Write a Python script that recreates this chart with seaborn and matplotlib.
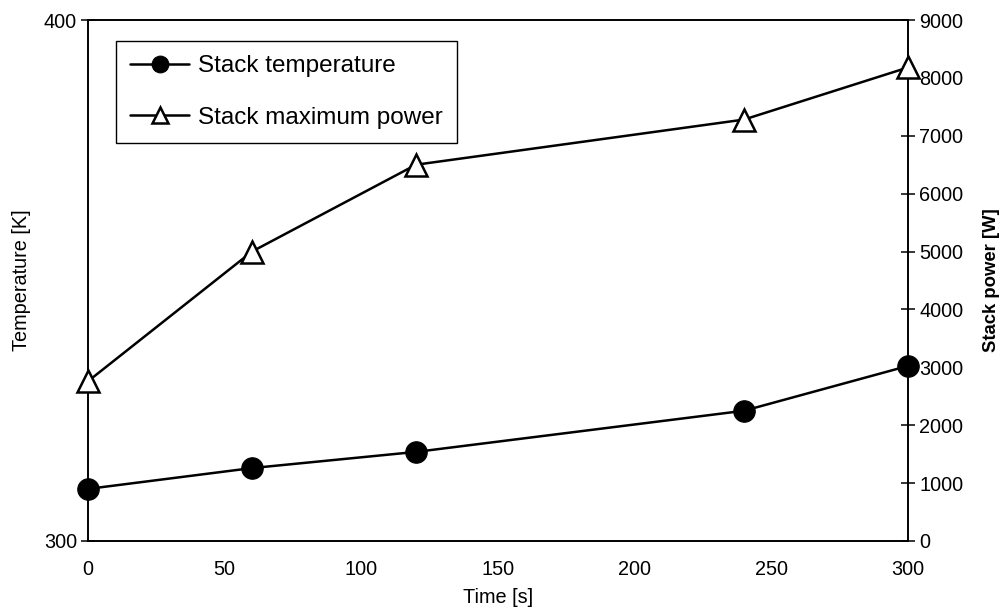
import matplotlib
matplotlib.use("Agg")
import matplotlib.pyplot as plt
import seaborn as sns
import pandas as pd

time_s = [0, 60, 120, 240, 300]
stack_temperature = [310.0, 314.0, 317.1, 325.0, 333.6]
stack_max_power = [2760, 5000, 6500, 7280, 8180]

sns.set_style("white")
plt.rcParams['font.family'] = ['Liberation Sans', 'DejaVu Sans']
plt.rcParams['text.color'] = 'black'
plt.rcParams['axes.labelcolor'] = 'black'
plt.rcParams['xtick.color'] = 'black'
plt.rcParams['ytick.color'] = 'black'

df = pd.DataFrame({"time": time_s, "temp": stack_temperature, "power": stack_max_power})

fig = plt.figure(figsize=(10.02, 6.10), dpi=100)
ax = fig.add_axes([88/1002, 1 - 541/610, (908-88)/1002, (541-20)/610])
ax2 = ax.twinx()

sns.lineplot(data=df, x="time", y="temp", ax=ax, color="black", lw=1.8,
             marker="o", markersize=15.5, markeredgecolor="black", markerfacecolor="black",
             label="Stack temperature", legend=False, clip_on=False, zorder=3)
sns.lineplot(data=df, x="time", y="power", ax=ax2, color="black", lw=1.8,
             marker="^", markersize=15.5, markeredgewidth=1.8, markeredgecolor="black",
             markerfacecolor="white", label="Stack maximum power", legend=False,
             clip_on=False, zorder=3)

ax.set_xlim(0, 300)
ax.set_ylim(300, 400)
ax.set_yticks([300, 400])
ax.set_xticks(range(0, 301, 50))
ax2.set_ylim(0, 9000)
ax2.set_yticks(range(0, 9001, 1000))

for a in (ax, ax2):
    for s in a.spines.values():
        s.set_color("black")
        s.set_linewidth(1.2)
ax.tick_params(axis="both", direction="inout", length=10, width=1.1, colors="black",
               labelsize=14.3, pad=3)
ax2.tick_params(axis="y", direction="inout", length=10, width=1.1, colors="black",
                labelsize=14.3, pad=3)
ax.tick_params(axis="x", pad=9)

ax.set_xlabel("Time [s]", fontsize=14.3, labelpad=6)
ax.set_ylabel("Temperature [K]", fontsize=14.3, labelpad=9)
ax2.set_ylabel("Stack power [W]", fontsize=13.3, fontweight="bold", labelpad=14)

h1, l1 = ax.get_legend_handles_labels()
h2, l2 = ax2.get_legend_handles_labels()
leg = ax2.legend(h1 + h2, l1 + l2, loc="upper left", bbox_to_anchor=(0.034, 0.96),
                 fontsize=17.5, frameon=True, fancybox=False, edgecolor="black",
                 framealpha=1, borderpad=0.6, labelspacing=1.2, handlelength=2.4,
                 handletextpad=0.37, markerscale=0.78, borderaxespad=0)
leg.get_frame().set_linewidth(1.0)

fig.savefig("out.png", dpi=100)
